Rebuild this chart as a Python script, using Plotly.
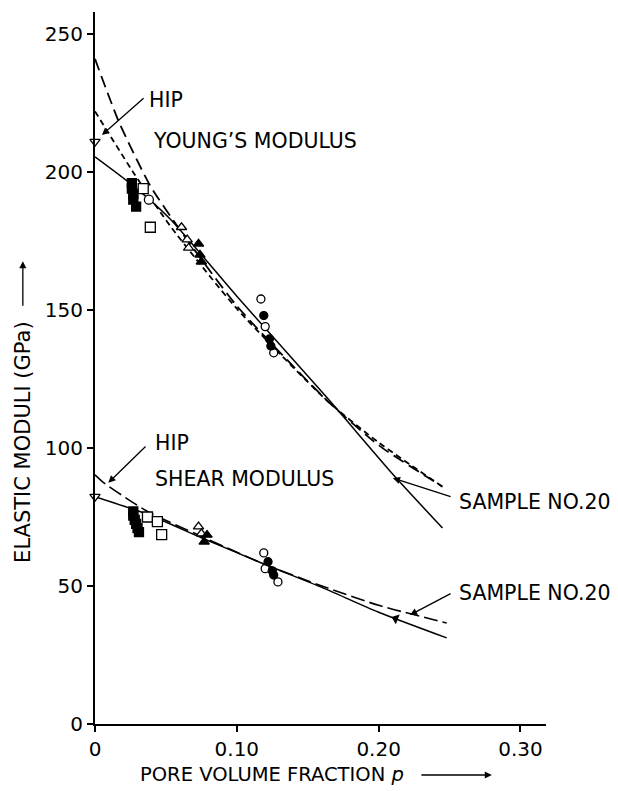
import plotly.graph_objects as go

# ---------------- data ----------------
# Young's modulus curves (p, GPa)
pYA = [0, 0.017, 0.039, 0.06, 0.10, 0.14, 0.164, 0.20, 0.245]
EYA = [241, 218, 195, 179, 151.5, 129.5, 117, 101, 86]
pYB = [0, 0.0275, 0.053, 0.10, 0.164, 0.20, 0.245]
EYB = [222, 199.5, 180.5, 150.5, 117, 102, 86]
pYC = [0, 0.027, 0.053, 0.10, 0.164, 0.21, 0.245]
EYC = [205.5, 195, 183, 155, 118, 90.5, 71]

# Shear modulus curves
pGU = [0, 0.006, 0.037, 0.075, 0.119, 0.16, 0.20, 0.248]
GGU = [90.3, 87.5, 77, 68, 58, 50, 43, 36.6]
pGL = [0, 0.037, 0.075, 0.119, 0.16, 0.20, 0.248]
GGL = [82.4, 76, 67.5, 58, 49.5, 40.5, 31.2]

# Young's modulus data points
yHIP_p, yHIP_v = [0], [211]
yFsq_p, yFsq_v = [0.026, 0.026, 0.027, 0.027, 0.029], [196, 194, 192, 190, 187.5]
yOsq_p, yOsq_v = [0.034, 0.039], [194, 180]
yOci1_p, yOci1_v = [0.038], [190]
yOtr_p, yOtr_v = [0.061, 0.065, 0.066], [180, 175.5, 172.5]
yFtr_p, yFtr_v = [0.073, 0.074, 0.075], [174, 170, 167.5]
yOci_p, yOci_v = [0.117, 0.120, 0.126], [154, 144, 134.5]
yFci_p, yFci_v = [0.119, 0.123, 0.124], [148, 139.5, 137]

# Shear modulus data points
gHIP_p, gHIP_v = [0], [82.4]
gFsq_p, gFsq_v = [0.027, 0.027, 0.028, 0.029, 0.030, 0.031], [77, 75.5, 74, 72.5, 71, 69.5]
gOsq_p, gOsq_v = [0.037, 0.044, 0.047], [75, 73.3, 68.6]
gOtr_p, gOtr_v = [0.073, 0.075], [71.5, 69]
gFtr_p, gFtr_v = [0.079, 0.077], [68.5, 66]
gOci_p, gOci_v = [0.119, 0.120, 0.129], [62, 56.3, 51.5]
gFci_p, gFci_v = [0.122, 0.125, 0.126], [58.8, 55.5, 54]
gArr_p, gArr_v = [0.212], [38.2]

x_ticks = [0, 0.10, 0.20, 0.30]
x_ticklabels = ["0", "0.10", "0.20", "0.30"]
y_ticks = [0, 50, 100, 150, 200, 250]

FONT = "DejaVu Sans"
fig = go.Figure()

def line(px, py, dash, width=1.6):
    fig.add_trace(go.Scatter(x=px, y=py, mode="lines", line=dict(color="black", width=width, dash=dash, shape="spline", smoothing=0.6), showlegend=False, hoverinfo="skip"))

line(pYA, EYA, "12px,6px", 1.8)
line(pYB, EYB, "6px,4px", 1.8)
line(pYC, EYC, "solid", 1.5)
line(pGU, GGU, "14px,5px", 1.6)
line(pGL, GGL, "solid", 1.5)

def pts(px, py, symbol, fill, size):
    fig.add_trace(go.Scatter(x=px, y=py, mode="markers", marker=dict(symbol=symbol, size=size, color=fill, line=dict(color="black", width=1.3)), showlegend=False, hoverinfo="skip", cliponaxis=False))

for (px, py, sym, fill, sz) in [
    (yHIP_p, yHIP_v, "triangle-down", "white", 9),
    (yFsq_p, yFsq_v, "square", "black", 9),
    (yOsq_p, yOsq_v, "square", "white", 10),
    (yOci1_p, yOci1_v, "circle", "white", 9),
    (yOtr_p, yOtr_v, "triangle-up", "white", 9),
    (yFtr_p, yFtr_v, "triangle-up", "black", 9),
    (yOci_p, yOci_v, "circle", "white", 8),
    (yFci_p, yFci_v, "circle", "black", 8),
    (gHIP_p, gHIP_v, "triangle-down", "white", 9),
    (gFsq_p, gFsq_v, "square", "black", 9),
    (gOsq_p, gOsq_v, "square", "white", 10),
    (gOtr_p, gOtr_v, "triangle-up", "white", 9),
    (gFtr_p, gFtr_v, "triangle-up", "black", 9),
    (gOci_p, gOci_v, "circle", "white", 8),
    (gFci_p, gFci_v, "circle", "black", 8),
]:
    pts(px, py, sym, fill, sz)

fig.add_trace(go.Scatter(x=gArr_p, y=gArr_v, mode="markers", marker=dict(symbol="triangle-left", size=9, color="black", angle=22), showlegend=False, hoverinfo="skip"))

annotations = []
def text(x, y, s, size=20.5):
    annotations.append(dict(x=x, y=y, xref="x", yref="y", text=s, showarrow=False, xanchor="left", yanchor="middle", font=dict(family=FONT, size=size, color="black")))

def arrow(x, y, ax, ay):
    annotations.append(dict(x=x, y=y, ax=ax, ay=ay, xref="x", yref="y", axref="x", ayref="y", text="", showarrow=True, arrowhead=2, arrowsize=1.1, arrowwidth=1.3, arrowcolor="black"))

text(0.0367, 226.1, "HIP")
text(0.0395, 211.2, "YOUNG’S MODULUS")
text(0.041, 101.8, "HIP")
text(0.041, 88.8, "SHEAR MODULUS")
text(0.2553, 80.4, "SAMPLE NO.20")
text(0.2553, 47.5, "SAMPLE NO.20")
arrow(0.0049, 213.4, 0.0353, 227.2)
arrow(0.0094, 87.4, 0.0367, 101.1)
arrow(0.210, 89.1, 0.2518, 82.2)
arrow(0.2221, 39.5, 0.2518, 47.5)

# axis titles
annotations.append(dict(x=-0.16, y=0.396, xref="paper", yref="paper", xanchor="center", yanchor="middle",
                        text="ELASTIC MODULI (GPa)", textangle=-90, showarrow=False,
                        font=dict(family=FONT, size=21, color="black")))
annotations.append(dict(x=-0.16, y=0.650, xref="paper", yref="paper", text="", showarrow=True, ax=0, ay=46,
                        arrowhead=2, arrowsize=1.1, arrowwidth=1.3, arrowcolor="black"))
annotations.append(dict(x=0.392, y=-0.0716, xref="paper", yref="paper", xanchor="center", yanchor="middle",
                        text="PORE VOLUME FRACTION <i>p</i>", showarrow=False,
                        font=dict(family=FONT, size=19.5, color="black")))
annotations.append(dict(x=0.880, y=-0.0716, xref="paper", yref="paper", text="", showarrow=True, ax=-72, ay=0,
                        arrowhead=2, arrowsize=1.1, arrowwidth=1.3, arrowcolor="black"))

fig.update_layout(
    width=618, height=791,
    margin=dict(l=95, r=72, t=12, b=67),
    paper_bgcolor="white", plot_bgcolor="white",
    annotations=annotations,
    xaxis=dict(range=[0, 0.318], tickvals=x_ticks, ticktext=x_ticklabels, showgrid=False, zeroline=False,
               showline=True, linecolor="black", linewidth=2, ticks="outside", ticklen=6, tickwidth=1.5, tickcolor="black",
               tickfont=dict(family=FONT, size=20, color="black")),
    yaxis=dict(range=[0, 258], tickvals=y_ticks, showgrid=False, zeroline=False,
               showline=True, linecolor="black", linewidth=2, ticks="outside", ticklen=6, tickwidth=1.5, tickcolor="black",
               tickfont=dict(family=FONT, size=20, color="black")),
)

fig.write_html("out.html")
